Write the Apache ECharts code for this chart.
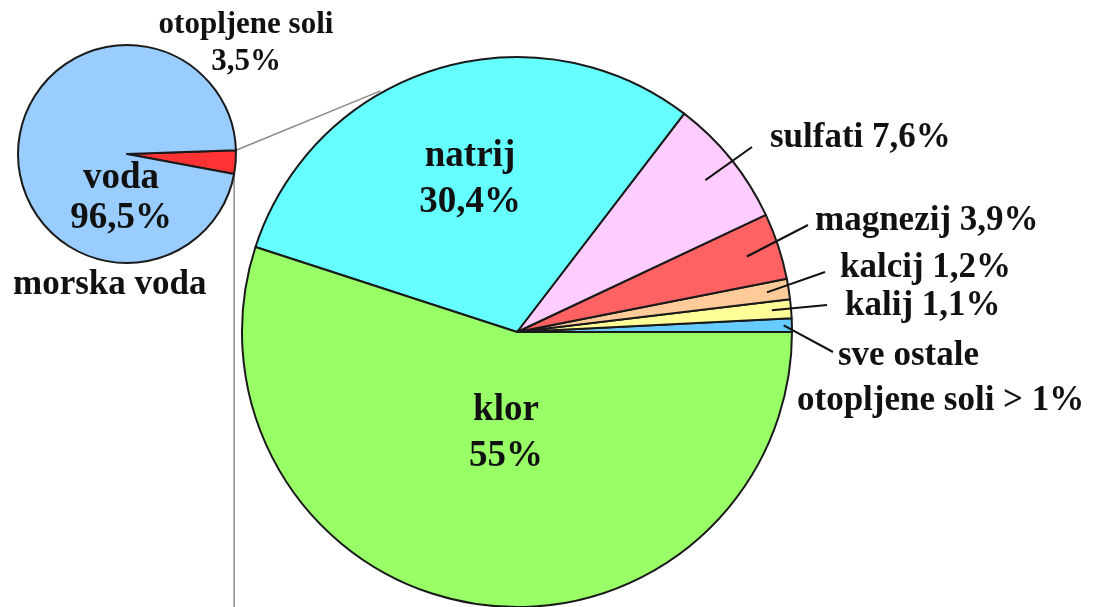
<!DOCTYPE html>
<html>
<head>
<meta charset="utf-8">
<script src="https://cdn.jsdelivr.net/npm/echarts@6/dist/echarts.min.js"></script>
<style>
  html, body { margin: 0; padding: 0; background: #fff; }
  #chart { width: 1104px; height: 607px; }
</style>
</head>
<body>
<div id="chart"></div>
<script>
// big pie: composition of dissolved salts (counter-clockwise from 3 o'clock)
const saltNames = ['sve ostale', 'kalij', 'kalcij', 'magnezij', 'sulfati', 'natrij', 'klor'];
const saltValues = [0.8, 1.1, 1.2, 3.9, 7.6, 30.4, 55];
const saltLabels = ['sve ostale\notopljene soli > 1%', 'kalij 1,1%', 'kalcij 1,2%', 'magnezij 3,9%', 'sulfati 7,6%', 'natrij\n30,4%', 'klor\n55%'];
const saltColors = ['#66ccff', '#ffff99', '#ffcc99', '#ff6262', '#ffccff', '#66ffff', '#99ff66'];

// small pie: sea water
const seaNames = ['otopljene soli', 'voda'];
const seaValues = [3.5, 96.5];
const seaLabels = ['otopljene soli\n3,5%', 'voda\n96,5%'];
const seaColors = ['#ff3333', '#99ccff'];

const chartDom = document.getElementById('chart');
const myChart = echarts.init(chartDom);

const FONT = 'Liberation Serif';
const BIG_C = [517, 332], BIG_R = 275;
const SMALL_C = [127, 154], SMALL_R = 109;
const SMALL_START = 2;

// where each label sits: [x, y, align, leader start as fraction of radius]
const saltPlace = [
  [797, 378, 'left', 0.97],
  [845, 306, 'left', 0.93],
  [840, 268, 'left', 0.92],
  [815, 221, 'left', 0.88],
  [770, 138, 'left', 0.88],
  [470, 179, 'center', 0],
  [506, 433, 'center', 0]
];
const leaderEnd = [[833, 352], [827, 305], [825, 272], [808, 225], [752, 147]];
const seaPlace = [
  [246, 43, 'center'],
  [121, 198, 'center']
];

const total = saltValues.reduce((a, b) => a + b, 0);
const midAngles = [];
let acc = 0;
saltValues.forEach(v => {
  midAngles.push((acc + v / 2) / total * 2 * Math.PI);
  acc += v;
});

const pt = (c, r, deg) => [c[0] + r * Math.cos(deg * Math.PI / 180), c[1] - r * Math.sin(deg * Math.PI / 180)];

// connector lines between the two pies
const redEnd = SMALL_START - seaValues[0] / 100 * 360;
const p1 = pt(SMALL_C, SMALL_R, SMALL_START);
const p2 = pt(BIG_C, BIG_R + 2, 119.5);
const p3 = pt(SMALL_C, SMALL_R, redEnd);

// leader lines from inside each thin slice to its label
const leaders = leaderEnd.map((e, i) => {
  const a = midAngles[i];
  const f = saltPlace[i][3];
  const s = [BIG_C[0] + BIG_R * f * Math.cos(a), BIG_C[1] - BIG_R * f * Math.sin(a)];
  return {
    type: 'polyline',
    shape: { points: [s, e] },
    style: { stroke: '#111', lineWidth: 2 },
    z: 10
  };
});

const labelFont = {
  fontFamily: FONT,
  fontWeight: 'bold',
  color: '#111'
};

const option = {
  animation: false,
  title: {
    text: 'morska voda',
    left: 8,
    top: 262,
    textStyle: Object.assign({ fontSize: 35 }, labelFont)
  },
  graphic: [
    {
      type: 'polyline',
      shape: { points: [p1, p2] },
      style: { stroke: '#8a8a8a', lineWidth: 1.5 },
      z: 0
    },
    {
      type: 'polyline',
      shape: { points: [p3, [p3[0], 607]] },
      style: { stroke: '#8a8a8a', lineWidth: 1.5 },
      z: 0
    }
  ].concat(leaders),
  series: [
    {
      type: 'pie',
      center: BIG_C,
      radius: BIG_R,
      startAngle: 0,
      clockwise: false,
      avoidLabelOverlap: false,
      emphasis: { disabled: true },
      itemStyle: { borderColor: '#1a1a1a', borderWidth: 2 },
      label: Object.assign({
        position: 'outside',
        fontSize: 35,
        lineHeight: 45,
        formatter: (p) => saltLabels[p.dataIndex],
        rich: {
          pad: Object.assign({ fontSize: 35, padding: [0, 0, 0, 41] }, labelFont)
        }
      }, labelFont),
      labelLine: { show: false },
      labelLayout: (params) => {
        const place = saltPlace[params.dataIndex];
        return { x: place[0], y: place[1], align: place[2], verticalAlign: 'middle' };
      },
      data: saltNames.map((name, i) => {
        const item = { name, value: saltValues[i], itemStyle: { color: saltColors[i] } };
        if (i === 0) {
          item.label = { formatter: '{pad|sve ostale}\notopljene soli > 1%' };
        }
        if (i >= 5) {
          item.label = { fontSize: 37, lineHeight: 46 };
        }
        return item;
      })
    },
    {
      type: 'pie',
      center: SMALL_C,
      radius: SMALL_R,
      startAngle: SMALL_START,
      clockwise: true,
      avoidLabelOverlap: false,
      emphasis: { disabled: true },
      itemStyle: { borderColor: '#1a1a1a', borderWidth: 2 },
      label: Object.assign({
        position: 'outside',
        fontSize: 31,
        lineHeight: 37,
        formatter: (p) => seaLabels[p.dataIndex]
      }, labelFont),
      labelLine: { show: false },
      labelLayout: (params) => {
        const place = seaPlace[params.dataIndex];
        return { x: place[0], y: place[1], align: place[2], verticalAlign: 'middle' };
      },
      data: seaNames.map((name, i) => {
        const item = { name, value: seaValues[i], itemStyle: { color: seaColors[i] } };
        if (i === 1) item.label = { fontSize: 37, lineHeight: 40 };
        return item;
      })
    }
  ]
};

option && myChart.setOption(option);
</script>
</body>
</html>
